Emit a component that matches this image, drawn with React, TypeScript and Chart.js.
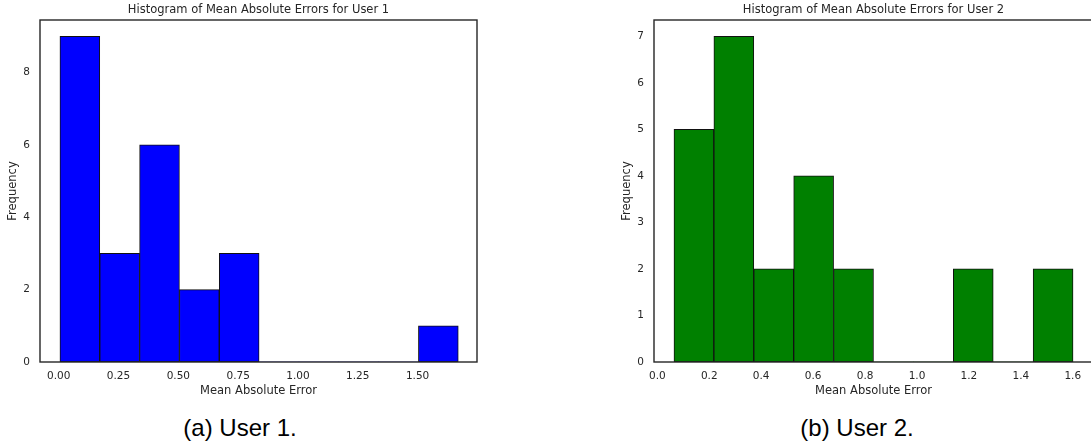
import React, { useEffect, useRef } from "react";
import { Chart, registerables } from "chart.js";

Chart.register(...registerables);

// ---- Data ----
const binEdges1 = [0.005, 0.1715, 0.338, 0.5045, 0.671, 0.8375, 1.004, 1.1705, 1.337, 1.5035, 1.67];
const counts1 = [9, 3, 6, 2, 3, 0, 0, 0, 0, 1];
const xTicks1 = [0, 0.25, 0.5, 0.75, 1.0, 1.25, 1.5];
const yTicks1 = [0, 2, 4, 6, 8];

const binEdges2 = [0.064, 0.2177, 0.3714, 0.5251, 0.6788, 0.8325, 0.9862, 1.1399, 1.2936, 1.4473, 1.601];
const counts2 = [5, 7, 2, 4, 2, 0, 0, 2, 0, 2];
const xTicks2 = [0, 0.2, 0.4, 0.6, 0.8, 1.0, 1.2, 1.4, 1.6];
const yTicks2 = [0, 1, 2, 3, 4, 5, 6, 7];

const FONT = "'DejaVu Sans', sans-serif";
const TEXT = "#262626";

type HistProps = {
  title: string;
  edges: number[];
  counts: number[];
  xTicks: number[];
  yTicks: number[];
  xDecimals: number;
  color: string;
  xMin: number;
  xMax: number;
  yMax: number;
  width: number;
  height: number;
  padRight: number;
  left: number;
};

function Histogram(p: HistProps) {
  const ref = useRef<HTMLCanvasElement | null>(null);
  useEffect(() => {
    if (!ref.current) return;
    const centers = p.counts.map((_, i) => (p.edges[i] + p.edges[i + 1]) / 2);
    const data = p.counts.map((c, i) => ({ x: centers[i], y: c }));
    const framePlugin = {
      id: "frameTitle",
      afterDatasetsDraw(chart: any) {
        const { ctx, chartArea } = chart;
        ctx.save();
        ctx.strokeStyle = TEXT;
        ctx.lineWidth = 1.4;
        ctx.strokeRect(chartArea.left, chartArea.top, chartArea.right - chartArea.left, chartArea.bottom - chartArea.top);
        ctx.fillStyle = TEXT;
        ctx.font = `11.5px ${FONT}`;
        ctx.textAlign = "center";
        ctx.textBaseline = "middle";
        ctx.fillText(p.title, (chartArea.left + chartArea.right) / 2, 10.5);
        ctx.restore();
      },
    };
    const chart = new Chart(ref.current, {
      type: "bar",
      data: {
        datasets: [
          {
            data: data as any,
            backgroundColor: p.color,
            borderColor: "#111111",
            borderWidth: ((c: any) => (c.raw && c.raw.y > 0 ? 1 : 0)) as any,
            borderSkipped: false,
            barPercentage: 1,
            categoryPercentage: 1,
          },
        ],
      },
      options: {
        animation: false,
        responsive: false,
        maintainAspectRatio: false,
        devicePixelRatio: 1,
        layout: { padding: { left: 0, top: 20, right: p.padRight, bottom: 0 } },
        plugins: { legend: { display: false }, tooltip: { enabled: false }, title: { display: false } },
        scales: {
          x: {
            type: "linear",
            offset: false,
            min: p.xMin,
            max: p.xMax,
            grid: { display: false, drawTicks: false },
            border: { display: false },
            afterFit: (s: any) => {
              s.height = 48;
            },
            afterBuildTicks: (s: any) => {
              s.ticks = p.xTicks.map((v) => ({ value: v }));
            },
            ticks: {
              padding: 8.4,
              autoSkip: false,
              maxRotation: 0,
              color: TEXT,
              font: { family: FONT, size: 10.5 },
              callback: (v: any) => Number(v).toFixed(p.xDecimals),
            },
            title: {
              display: true,
              text: "Mean Absolute Error",
              color: TEXT,
              font: { family: FONT, size: 11.5 },
              padding: { top: 0, bottom: 11.6 },
            },
          },
          y: {
            type: "linear",
            min: 0,
            max: p.yMax,
            grid: { display: false, drawTicks: false },
            border: { display: false },
            afterFit: (s: any) => {
              s.width = 40;
            },
            afterBuildTicks: (s: any) => {
              s.ticks = p.yTicks.map((v) => ({ value: v }));
            },
            ticks: {
              padding: 10,
              color: TEXT,
              font: { family: FONT, size: 10.5 },
              callback: (v: any) => String(v),
            },
            title: {
              display: true,
              text: "Frequency",
              color: TEXT,
              font: { family: FONT, size: 11.5 },
              padding: { top: 6.1, bottom: 0 },
            },
          },
        },
      },
      plugins: [framePlugin],
    });
    return () => chart.destroy();
  }, []);
  return (
    <canvas
      ref={ref}
      width={p.width}
      height={p.height}
      style={{ position: "absolute", left: p.left, top: 0, width: p.width, height: p.height }}
    />
  );
}

const captionStyle: React.CSSProperties = {
  position: "absolute",
  top: 412,
  width: 300,
  textAlign: "center",
  fontFamily: "'Liberation Sans', Arial, sans-serif",
  fontSize: 24,
  lineHeight: "32px",
  color: "#000",
};

export default function App() {
  return (
    <div
      style={{
        position: "absolute",
        left: 0,
        top: 0,
        width: 1091,
        height: 448,
        overflow: "hidden",
        background: "#fff",
      }}
    >
      <Histogram
        title="Histogram of Mean Absolute Errors for User 1"
        edges={binEdges1}
        counts={counts1}
        xTicks={xTicks1}
        yTicks={yTicks1}
        xDecimals={2}
        color="#0000ff"
        xMin={-0.0783}
        xMax={1.7483}
        yMax={9.45}
        width={545}
        height={410}
        padRight={68}
        left={0}
      />
      <Histogram
        title="Histogram of Mean Absolute Errors for User 2"
        edges={binEdges2}
        counts={counts2}
        xTicks={xTicks2}
        yTicks={yTicks2}
        xDecimals={1}
        color="#008000"
        xMin={-0.0129}
        xMax={1.6779}
        yMax={7.35}
        width={500}
        height={410}
        padRight={21}
        left={614}
      />
      <div style={{ ...captionStyle, left: 240 - 150 }}>(a) User 1.</div>
      <div style={{ ...captionStyle, left: 857 - 150 }}>(b) User 2.</div>
    </div>
  );
}
